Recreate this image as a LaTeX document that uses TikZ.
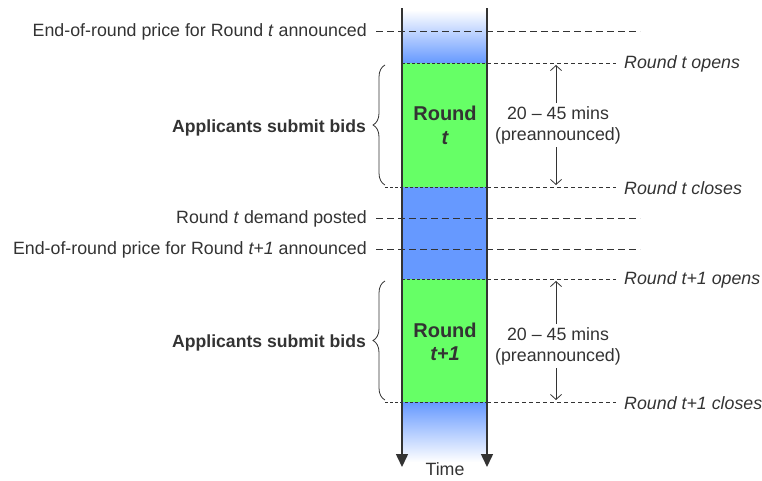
\documentclass[tikz,border=0pt]{standalone}
\usepackage{fontspec}
\setmainfont{Liberation Sans}
\usetikzlibrary{arrows.meta,decorations.pathreplacing}
\definecolor{gfill}{HTML}{66FF66}
\definecolor{bfill}{HTML}{6699FF}
\definecolor{ink}{HTML}{333333}
\tikzset{
  lab/.style={font=\fontsize{17.8}{21}\selectfont, text=ink, inner sep=0pt},
  boldlab/.style={font=\bfseries\fontsize{17.6}{21}\selectfont, text=ink, inner sep=0pt},
  roundlab/.style={font=\bfseries\fontsize{20}{22}\selectfont, text=ink, inner sep=0pt},
  longdash/.style={draw=ink, line width=1pt, dash pattern=on 7pt off 4pt},
  shortdash/.style={draw=ink, line width=0.8pt, dash pattern=on 4pt off 3pt},
  finedash/.style={draw=ink, line width=0.7pt, dash pattern=on 3pt off 2pt},
  timeline/.style={draw=ink, line width=1.5pt, -{Triangle[width=12pt,length=13pt]}},
  spanarrow/.style={draw=ink, line width=0.8pt, -{Straight Barb[length=5pt,width=11pt]}},
  bracestyle/.style={draw=ink, line width=0.8pt, decorate, decoration={brace, amplitude=12pt, raise=0pt}},
}
\begin{document}
\begin{tikzpicture}[x=1pt,y=-1pt]
\useasboundingbox (0,0) rectangle (762,480);
% fills
\shade[top color=white, bottom color=bfill] (402,10) rectangle (487,63);
\fill[gfill] (402,63) rectangle (487,187);
\fill[bfill] (402,187) rectangle (487,279);
\fill[gfill] (402,279) rectangle (487,402);
\shade[top color=bfill, bottom color=white] (402,402) rectangle (487,462);
% coordinates
\coordinate (l1) at (376,31); \coordinate (r1) at (640,31);
\coordinate (l2) at (487,63); \coordinate (r2) at (616,63);
\coordinate (l3) at (385,187); \coordinate (r3) at (616,187);
\coordinate (l4) at (376,218); \coordinate (r4) at (640,218);
\coordinate (l5) at (376,249); \coordinate (r5) at (640,249);
\coordinate (l6) at (487,279); \coordinate (r6) at (616,279);
\coordinate (l7) at (385,402); \coordinate (r7) at (616,402);
% dashed lines
\draw[longdash] (l1) -- (r1);
\draw[longdash] (l4) -- (r4);
\draw[longdash] (l5) -- (r5);
\draw[finedash] (402,63) -- (l2);
\draw[shortdash] (l2) -- (r2);
\draw[finedash] (402,279) -- (l6);
\draw[shortdash] (l6) -- (r6);
\draw[finedash] (l3) -- (487,187);
\draw[shortdash] (487,187) -- (r3);
\draw[finedash] (l7) -- (487,402);
\draw[shortdash] (487,402) -- (r7);
% timelines
\coordinate (tl0) at (402,8); \coordinate (tl1) at (402,467);
\coordinate (tr0) at (487,8); \coordinate (tr1) at (487,467);
\draw[timeline] (tl0) -- (tl1);
\draw[timeline] (tr0) -- (tr1);
% left labels
\node[lab, anchor=east] (t1) at (367,32) {End-of-round price for Round \textit{t} announced};
\node[lab, anchor=east] (t4) at (367,219) {Round \textit{t} demand posted};
\node[lab, anchor=east] (t5) at (367,250) {End-of-round price for Round \textit{t+1} announced};
% right labels
\node[lab, anchor=west] (o1) at (624,64) {\itshape Round t opens};
\node[lab, anchor=west] (c1) at (624,188) {\itshape Round t closes};
\node[lab, anchor=west] (o2) at (624,280) {\itshape Round t+1 opens};
\node[lab, anchor=west] (c2) at (624,403) {\itshape Round t+1 closes};
% round labels
\node[roundlab] (r1a) at (445,113) {Round};
\node[roundlab] (r1b) at (445,138) {\itshape t};
\node[roundlab] (r2a) at (445,330) {Round};
\node[roundlab] (r2b) at (445,354) {\itshape t+1};
% braces
\draw[bracestyle] (385,185) -- (385,65);
\draw[bracestyle] (385,400) -- (385,281);
\node[boldlab, anchor=east] (b1) at (366,128) {Applicants submit bids};
\node[boldlab, anchor=east] (b2) at (366,343) {Applicants submit bids};
% duration
\node[lab, align=center] (d1) at (558,125) {20 -- 45 mins\\(preannounced)};
\node[lab, align=center] (d2) at (558,346) {20 -- 45 mins\\(preannounced)};
\draw[spanarrow] (d1.north -| 556,0) ++(0,-3) -- (556,65);
\draw[spanarrow] (d1.south -| 556,0) ++(0,3) -- (556,185);
\draw[spanarrow] (d2.north -| 556,0) ++(0,-3) -- (556,281);
\draw[spanarrow] (d2.south -| 556,0) ++(0,3) -- (556,400);
% time
\node[lab] (time) at (445,469) {Time};
\end{tikzpicture}
\end{document}
